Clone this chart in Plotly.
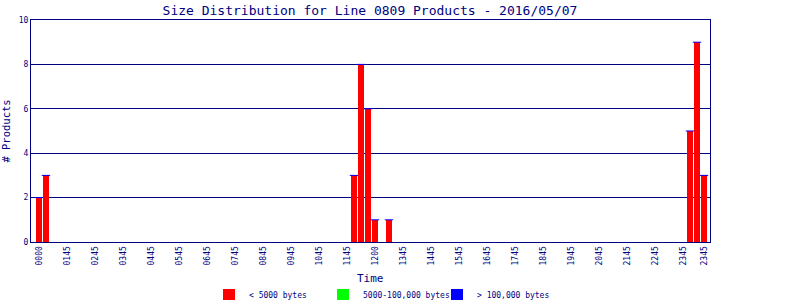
import plotly.graph_objects as go

# ---- data ----
bar_slots = [0, 1, 45, 46, 47, 48, 50, 93, 94, 95]          # 15-minute slot index (0..95)
small_counts = [2, 3, 3, 8, 6, 1, 1, 5, 9, 3]               # < 5000 bytes
medium_counts = [0, 0, 0, 0, 0, 0, 0, 0, 0, 0]              # 5000-100,000 bytes
large_counts = [0, 0, 0, 0, 0, 0, 0, 0, 0, 0]               # > 100,000 bytes

tick_slots = [0, 4, 8, 12, 16, 20, 24, 28, 32, 36, 40, 44, 48, 52, 56, 60,
              64, 68, 72, 76, 80, 84, 88, 92, 95]
tick_labels = ["0000", "0145", "0245", "0345", "0445", "0545", "0645", "0745",
               "0845", "0945", "1045", "1145", "1200", "1345", "1445", "1545",
               "1645", "1745", "1845", "1945", "2045", "2145", "2245", "2345", "2345"]

title = "Size Distribution for Line 0809 Products - 2016/05/07"
legend_names = ["< 5000 bytes", "5000-100,000 bytes", "> 100,000 bytes"]

NAVY = "#000080"
FONT = "DejaVu Sans Mono"

fig = go.Figure()
fig.add_trace(go.Bar(x=bar_slots, y=small_counts, name=legend_names[0],
                     marker=dict(color="#FF0000", line=dict(width=0))))
fig.add_trace(go.Bar(x=bar_slots, y=medium_counts, name=legend_names[1],
                     marker=dict(color="#00FF00", line=dict(width=0))))
fig.add_trace(go.Bar(x=bar_slots, y=large_counts, name=legend_names[2],
                     marker=dict(color="#0000FF", line=dict(width=0))))
# blue top edge of each stack (zero-height top segment)
tops = [a + b + c for a, b, c in zip(small_counts, medium_counts, large_counts)]
fig.add_trace(go.Scatter(x=bar_slots, y=tops, mode="markers", showlegend=False,
                         hoverinfo="skip",
                         marker=dict(symbol="line-ew", size=6,
                                     line=dict(color="#0000FF", width=1))))

fig.update_layout(
    width=800, height=300,
    margin=dict(l=31, r=90, t=20, b=58),
    paper_bgcolor="white", plot_bgcolor="white",
    barmode="stack", bargap=0.15,
    font=dict(family=FONT, color=NAVY, size=8),
    title=dict(text=title, x=370 / 800, xanchor="center", y=1 - 10 / 300,
               yanchor="middle", font=dict(family=FONT, size=13, color=NAVY)),
    showlegend=True,
    legend=dict(orientation="h", xref="container", yref="container",
                traceorder="normal",
                x=209 / 800, xanchor="left", y=1 - 295 / 300, yanchor="middle",
                font=dict(family=FONT, size=8, color=NAVY),
                entrywidth=69, entrywidthmode="pixels",
                itemclick=False, bgcolor="rgba(0,0,0,0)"),
    xaxis=dict(range=[-1.14, 95.86], tickmode="array", tickvals=tick_slots,
               ticktext=tick_labels, tickangle=-90, showgrid=False,
               zeroline=False, showline=True, linecolor=NAVY, linewidth=1,
               mirror=True, ticks="", automargin=False,
               tickfont=dict(family=FONT, size=8, color=NAVY)),
    yaxis=dict(range=[0, 10], tickmode="array", tickvals=[0, 2, 4, 6, 8, 10],
               showgrid=True, gridcolor=NAVY, gridwidth=1, zeroline=False,
               showline=True, linecolor=NAVY, linewidth=1, mirror=True, ticks="",
               automargin=False,
               tickfont=dict(family=FONT, size=8, color=NAVY),
               title=dict(text="# Products", font=dict(family=FONT, size=10.5, color=NAVY),
                          standoff=6)),
    annotations=[dict(text="Time", xref="paper", yref="paper", x=0.5,
                      y=-36 / 222, xanchor="center", yanchor="middle",
                      showarrow=False, font=dict(family=FONT, size=11, color=NAVY))],
)

fig.write_html("out.html")
